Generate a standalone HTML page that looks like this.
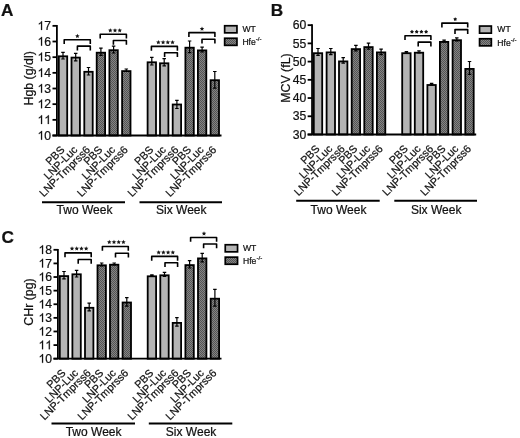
<!DOCTYPE html>
<html><head><meta charset="utf-8"><title>Figure</title>
<style>
html,body{margin:0;padding:0;background:#fff;}
body{width:520px;height:438px;overflow:hidden;}
svg{display:block;filter:blur(0.4px);}
text{font-family:"Liberation Sans", sans-serif;fill:#111;stroke:#111;stroke-width:0.22px;}
</style></head>
<body>
<svg width="520" height="438" viewBox="0 0 520 438">
<defs>
<pattern id="hatch" width="2" height="2" patternUnits="userSpaceOnUse">
<rect width="2" height="2" fill="#848484"/>
<rect width="1" height="1" fill="#545454"/>
<rect x="1" y="1" width="1" height="1" fill="#545454"/>
</pattern>
</defs>
<rect width="520" height="438" fill="#fff"/>
<rect x="58.80" y="56.30" width="8.40" height="79.20" fill="#b4b4b4" stroke="#000" stroke-width="1.8"/>
<path d="M63.00 52.30V59.00M61.25 52.30H64.75M61.25 59.00H64.75" stroke="#000" stroke-width="1.2" fill="none"/>
<rect x="71.50" y="57.60" width="8.40" height="77.90" fill="#b4b4b4" stroke="#000" stroke-width="1.8"/>
<path d="M75.70 53.40V60.80M73.95 53.40H77.45M73.95 60.80H77.45" stroke="#000" stroke-width="1.2" fill="none"/>
<rect x="84.30" y="71.80" width="8.40" height="63.70" fill="#b4b4b4" stroke="#000" stroke-width="1.8"/>
<path d="M88.50 67.50V75.00M86.75 67.50H90.25M86.75 75.00H90.25" stroke="#000" stroke-width="1.2" fill="none"/>
<rect x="96.70" y="52.70" width="8.40" height="82.80" fill="url(#hatch)" stroke="#000" stroke-width="1.8"/>
<path d="M100.90 48.20V55.40M99.15 48.20H102.65M99.15 55.40H102.65" stroke="#000" stroke-width="1.2" fill="none"/>
<rect x="109.40" y="50.20" width="8.40" height="85.30" fill="url(#hatch)" stroke="#000" stroke-width="1.8"/>
<path d="M113.60 46.20V53.00M111.85 46.20H115.35M111.85 53.00H115.35" stroke="#000" stroke-width="1.2" fill="none"/>
<rect x="122.10" y="71.10" width="8.40" height="64.40" fill="url(#hatch)" stroke="#000" stroke-width="1.8"/>
<path d="M126.30 69.00V71.50M124.55 69.00H128.05M124.55 71.50H128.05" stroke="#000" stroke-width="1.2" fill="none"/>
<rect x="147.60" y="62.30" width="8.40" height="73.20" fill="#b4b4b4" stroke="#000" stroke-width="1.8"/>
<path d="M151.80 57.40V65.00M150.05 57.40H153.55M150.05 65.00H153.55" stroke="#000" stroke-width="1.2" fill="none"/>
<rect x="160.00" y="63.30" width="8.40" height="72.20" fill="#b4b4b4" stroke="#000" stroke-width="1.8"/>
<path d="M164.20 58.60V65.80M162.45 58.60H165.95M162.45 65.80H165.95" stroke="#000" stroke-width="1.2" fill="none"/>
<rect x="172.70" y="104.50" width="8.40" height="31.00" fill="#b4b4b4" stroke="#000" stroke-width="1.8"/>
<path d="M176.90 100.40V108.50M175.15 100.40H178.65M175.15 108.50H178.65" stroke="#000" stroke-width="1.2" fill="none"/>
<rect x="185.40" y="47.70" width="8.40" height="87.80" fill="url(#hatch)" stroke="#000" stroke-width="1.8"/>
<path d="M189.60 41.00V52.60M187.85 41.00H191.35M187.85 52.60H191.35" stroke="#000" stroke-width="1.2" fill="none"/>
<rect x="197.90" y="50.40" width="8.40" height="85.10" fill="url(#hatch)" stroke="#000" stroke-width="1.8"/>
<path d="M202.10 47.10V52.00M200.35 47.10H203.85M200.35 52.00H203.85" stroke="#000" stroke-width="1.2" fill="none"/>
<rect x="210.60" y="80.20" width="8.40" height="55.30" fill="url(#hatch)" stroke="#000" stroke-width="1.8"/>
<path d="M214.80 71.50V88.20M213.05 71.50H216.55M213.05 88.20H216.55" stroke="#000" stroke-width="1.2" fill="none"/>
<path d="M56.90 24.95V135.50" stroke="#000" stroke-width="1.8" fill="none"/>
<path d="M52.50 135.50H221.50" stroke="#000" stroke-width="1.8" fill="none"/>
<path d="M52.50 25.85H56.90" stroke="#000" stroke-width="1.8" fill="none"/>
<path d="M763 0H583V1147Q518 1085 412.5 1023T223 930V1104Q374 1175 487 1276T647 1472H763V0Z" transform="translate(37.53 30.00) scale(0.00596 -0.00596)" fill="#111" stroke="#111" stroke-width="36.9"/>
<text x="44.31" y="30.00" font-size="12.2">7</text>
<path d="M52.50 41.51H56.90" stroke="#000" stroke-width="1.8" fill="none"/>
<path d="M763 0H583V1147Q518 1085 412.5 1023T223 930V1104Q374 1175 487 1276T647 1472H763V0Z" transform="translate(37.53 45.66) scale(0.00596 -0.00596)" fill="#111" stroke="#111" stroke-width="36.9"/>
<text x="44.31" y="45.66" font-size="12.2">6</text>
<path d="M52.50 57.18H56.90" stroke="#000" stroke-width="1.8" fill="none"/>
<path d="M763 0H583V1147Q518 1085 412.5 1023T223 930V1104Q374 1175 487 1276T647 1472H763V0Z" transform="translate(37.53 61.33) scale(0.00596 -0.00596)" fill="#111" stroke="#111" stroke-width="36.9"/>
<text x="44.31" y="61.33" font-size="12.2">5</text>
<path d="M52.50 72.84H56.90" stroke="#000" stroke-width="1.8" fill="none"/>
<path d="M763 0H583V1147Q518 1085 412.5 1023T223 930V1104Q374 1175 487 1276T647 1472H763V0Z" transform="translate(37.53 76.99) scale(0.00596 -0.00596)" fill="#111" stroke="#111" stroke-width="36.9"/>
<text x="44.31" y="76.99" font-size="12.2">4</text>
<path d="M52.50 88.51H56.90" stroke="#000" stroke-width="1.8" fill="none"/>
<path d="M763 0H583V1147Q518 1085 412.5 1023T223 930V1104Q374 1175 487 1276T647 1472H763V0Z" transform="translate(37.53 92.66) scale(0.00596 -0.00596)" fill="#111" stroke="#111" stroke-width="36.9"/>
<text x="44.31" y="92.66" font-size="12.2">3</text>
<path d="M52.50 104.17H56.90" stroke="#000" stroke-width="1.8" fill="none"/>
<path d="M763 0H583V1147Q518 1085 412.5 1023T223 930V1104Q374 1175 487 1276T647 1472H763V0Z" transform="translate(37.53 108.32) scale(0.00596 -0.00596)" fill="#111" stroke="#111" stroke-width="36.9"/>
<text x="44.31" y="108.32" font-size="12.2">2</text>
<path d="M52.50 119.84H56.90" stroke="#000" stroke-width="1.8" fill="none"/>
<path d="M763 0H583V1147Q518 1085 412.5 1023T223 930V1104Q374 1175 487 1276T647 1472H763V0Z" transform="translate(37.53 123.98) scale(0.00596 -0.00596)" fill="#111" stroke="#111" stroke-width="36.9"/>
<path d="M763 0H583V1147Q518 1085 412.5 1023T223 930V1104Q374 1175 487 1276T647 1472H763V0Z" transform="translate(44.31 123.98) scale(0.00596 -0.00596)" fill="#111" stroke="#111" stroke-width="36.9"/>
<path d="M52.50 135.50H56.90" stroke="#000" stroke-width="1.8" fill="none"/>
<path d="M763 0H583V1147Q518 1085 412.5 1023T223 930V1104Q374 1175 487 1276T647 1472H763V0Z" transform="translate(37.53 139.65) scale(0.00596 -0.00596)" fill="#111" stroke="#111" stroke-width="36.9"/>
<text x="44.31" y="139.65" font-size="12.2">0</text>
<text x="32.95" y="78.35" font-size="12.4" text-anchor="middle" transform="rotate(-90 32.95 78.35)">Hgb (g/dl)</text>
<text x="1.00" y="16.00" font-size="17.2" font-weight="bold">A</text>
<path d="M64.20 44.05V39.75H90.30V44.05" stroke="#000" stroke-width="1.6" fill="none" stroke-linejoin="round"/>
<polygon points="77.40,33.80 78.05,35.26 79.63,35.42 78.45,36.49 78.78,38.05 77.40,37.25 76.02,38.05 76.35,36.49 75.17,35.42 76.75,35.26" fill="#151515"/>
<path d="M77.40 50.45V46.15H90.30V50.45" stroke="#000" stroke-width="1.6" fill="none" stroke-linejoin="round"/>
<path d="M100.20 38.50V34.20H126.40V38.50" stroke="#000" stroke-width="1.6" fill="none" stroke-linejoin="round"/>
<polygon points="110.28,28.15 110.93,29.61 112.51,29.77 111.33,30.84 111.66,32.40 110.28,31.60 108.90,32.40 109.23,30.84 108.05,29.77 109.63,29.61" fill="#151515"/>
<polygon points="115.00,28.15 115.65,29.61 117.23,29.77 116.05,30.84 116.38,32.40 115.00,31.60 113.62,32.40 113.95,30.84 112.77,29.77 114.35,29.61" fill="#151515"/>
<polygon points="119.72,28.15 120.37,29.61 121.95,29.77 120.77,30.84 121.10,32.40 119.72,31.60 118.34,32.40 118.67,30.84 117.49,29.77 119.07,29.61" fill="#151515"/>
<path d="M113.40 44.80V40.50H126.40V44.80" stroke="#000" stroke-width="1.6" fill="none" stroke-linejoin="round"/>
<path d="M151.40 50.70V46.40H177.40V50.70" stroke="#000" stroke-width="1.6" fill="none" stroke-linejoin="round"/>
<polygon points="158.37,39.95 159.02,41.41 160.60,41.57 159.42,42.64 159.75,44.20 158.37,43.40 156.99,44.20 157.32,42.64 156.14,41.57 157.72,41.41" fill="#151515"/>
<polygon points="163.09,39.95 163.74,41.41 165.32,41.57 164.14,42.64 164.47,44.20 163.09,43.40 161.71,44.20 162.04,42.64 160.86,41.57 162.44,41.41" fill="#151515"/>
<polygon points="167.81,39.95 168.46,41.41 170.04,41.57 168.86,42.64 169.19,44.20 167.81,43.40 166.43,44.20 166.76,42.64 165.58,41.57 167.16,41.41" fill="#151515"/>
<polygon points="172.53,39.95 173.18,41.41 174.76,41.57 173.58,42.64 173.91,44.20 172.53,43.40 171.15,44.20 171.48,42.64 170.30,41.57 171.88,41.41" fill="#151515"/>
<path d="M164.60 57.10V52.80H177.40V57.10" stroke="#000" stroke-width="1.6" fill="none" stroke-linejoin="round"/>
<path d="M188.90 36.90V32.60H214.90V36.90" stroke="#000" stroke-width="1.6" fill="none" stroke-linejoin="round"/>
<polygon points="202.00,26.45 202.65,27.91 204.23,28.07 203.05,29.14 203.38,30.70 202.00,29.90 200.62,30.70 200.95,29.14 199.77,28.07 201.35,27.91" fill="#151515"/>
<path d="M202.00 43.50V39.20H214.90V43.50" stroke="#000" stroke-width="1.6" fill="none" stroke-linejoin="round"/>
<text x="65.30" y="150.50" font-size="10.8" text-anchor="end" transform="rotate(-45 65.30 150.50)">PBS</text>
<text x="78.00" y="150.50" font-size="10.8" text-anchor="end" transform="rotate(-45 78.00 150.50)">LNP-Luc</text>
<text x="90.80" y="150.50" font-size="10.8" text-anchor="end" transform="rotate(-45 90.80 150.50)">LNP-Tmprss6</text>
<text x="103.20" y="150.50" font-size="10.8" text-anchor="end" transform="rotate(-45 103.20 150.50)">PBS</text>
<text x="115.90" y="150.50" font-size="10.8" text-anchor="end" transform="rotate(-45 115.90 150.50)">LNP-Luc</text>
<text x="128.60" y="150.50" font-size="10.8" text-anchor="end" transform="rotate(-45 128.60 150.50)">LNP-Tmprss6</text>
<text x="154.10" y="150.50" font-size="10.8" text-anchor="end" transform="rotate(-45 154.10 150.50)">PBS</text>
<text x="166.50" y="150.50" font-size="10.8" text-anchor="end" transform="rotate(-45 166.50 150.50)">LNP-Luc</text>
<text x="179.20" y="150.50" font-size="10.8" text-anchor="end" transform="rotate(-45 179.20 150.50)">LNP-Tmprss6</text>
<text x="191.90" y="150.50" font-size="10.8" text-anchor="end" transform="rotate(-45 191.90 150.50)">PBS</text>
<text x="204.40" y="150.50" font-size="10.8" text-anchor="end" transform="rotate(-45 204.40 150.50)">LNP-Luc</text>
<text x="217.10" y="150.50" font-size="10.8" text-anchor="end" transform="rotate(-45 217.10 150.50)">LNP-Tmprss6</text>
<path d="M42.00 202.20H125.00" stroke="#000" stroke-width="2" fill="none"/>
<text x="84.50" y="214.20" font-size="12.0" text-anchor="middle">Two Week</text>
<path d="M139.50 202.20H222.00" stroke="#000" stroke-width="2" fill="none"/>
<text x="181.30" y="214.20" font-size="12.0" text-anchor="middle">Six Week</text>
<rect x="224.65" y="25.75" width="12.30" height="7.10" fill="#b4b4b4" stroke="#000" stroke-width="1.7"/>
<rect x="224.65" y="38.25" width="12.30" height="7.10" fill="url(#hatch)" stroke="#000" stroke-width="1.7"/>
<text x="242.40" y="32.10" font-size="8.6">WT</text>
<text x="242.40" y="45.00" font-size="8.6">Hfe<tspan font-size="6.2" dy="-3.8">-/-</tspan></text>
<rect x="313.80" y="53.20" width="8.40" height="81.30" fill="#b4b4b4" stroke="#000" stroke-width="1.8"/>
<path d="M318.00 48.50V55.40M316.25 48.50H319.75M316.25 55.40H319.75" stroke="#000" stroke-width="1.2" fill="none"/>
<rect x="326.60" y="52.40" width="8.40" height="82.10" fill="#b4b4b4" stroke="#000" stroke-width="1.8"/>
<path d="M330.80 48.50V54.60M329.05 48.50H332.55M329.05 54.60H332.55" stroke="#000" stroke-width="1.2" fill="none"/>
<rect x="339.00" y="61.40" width="8.40" height="73.10" fill="#b4b4b4" stroke="#000" stroke-width="1.8"/>
<path d="M343.20 57.70V63.10M341.45 57.70H344.95M341.45 63.10H344.95" stroke="#000" stroke-width="1.2" fill="none"/>
<rect x="351.70" y="49.10" width="8.40" height="85.40" fill="url(#hatch)" stroke="#000" stroke-width="1.8"/>
<path d="M355.90 45.40V50.80M354.15 45.40H357.65M354.15 50.80H357.65" stroke="#000" stroke-width="1.2" fill="none"/>
<rect x="364.30" y="47.10" width="8.40" height="87.40" fill="url(#hatch)" stroke="#000" stroke-width="1.8"/>
<path d="M368.50 43.10V49.20M366.75 43.10H370.25M366.75 49.20H370.25" stroke="#000" stroke-width="1.2" fill="none"/>
<rect x="376.90" y="52.40" width="8.40" height="82.10" fill="url(#hatch)" stroke="#000" stroke-width="1.8"/>
<path d="M381.10 49.20V54.60M379.35 49.20H382.85M379.35 54.60H382.85" stroke="#000" stroke-width="1.2" fill="none"/>
<rect x="402.20" y="53.20" width="8.40" height="81.30" fill="#b4b4b4" stroke="#000" stroke-width="1.8"/>
<path d="M406.40 51.70V53.10M404.65 51.70H408.15M404.65 53.10H408.15" stroke="#000" stroke-width="1.2" fill="none"/>
<rect x="414.80" y="52.70" width="8.40" height="81.80" fill="#b4b4b4" stroke="#000" stroke-width="1.8"/>
<path d="M419.00 50.90V52.90M417.25 50.90H420.75M417.25 52.90H420.75" stroke="#000" stroke-width="1.2" fill="none"/>
<rect x="427.40" y="85.00" width="8.40" height="49.50" fill="#b4b4b4" stroke="#000" stroke-width="1.8"/>
<path d="M431.60 83.30V85.20M429.85 83.30H433.35M429.85 85.20H433.35" stroke="#000" stroke-width="1.2" fill="none"/>
<rect x="439.90" y="41.90" width="8.40" height="92.60" fill="url(#hatch)" stroke="#000" stroke-width="1.8"/>
<path d="M444.10 40.20V42.00M442.35 40.20H445.85M442.35 42.00H445.85" stroke="#000" stroke-width="1.2" fill="none"/>
<rect x="452.60" y="40.20" width="8.40" height="94.30" fill="url(#hatch)" stroke="#000" stroke-width="1.8"/>
<path d="M456.80 37.80V40.90M455.05 37.80H458.55M455.05 40.90H458.55" stroke="#000" stroke-width="1.2" fill="none"/>
<rect x="465.30" y="68.90" width="8.40" height="65.60" fill="url(#hatch)" stroke="#000" stroke-width="1.8"/>
<path d="M469.50 61.50V74.40M467.75 61.50H471.25M467.75 74.40H471.25" stroke="#000" stroke-width="1.2" fill="none"/>
<path d="M312.05 24.25V134.50" stroke="#000" stroke-width="1.8" fill="none"/>
<path d="M307.65 134.50H476.20" stroke="#000" stroke-width="1.8" fill="none"/>
<path d="M307.65 25.15H312.05" stroke="#000" stroke-width="1.8" fill="none"/>
<text x="292.68" y="29.30" font-size="12.2">6</text>
<text x="299.46" y="29.30" font-size="12.2">0</text>
<path d="M307.65 43.38H312.05" stroke="#000" stroke-width="1.8" fill="none"/>
<text x="292.68" y="47.52" font-size="12.2">5</text>
<text x="299.46" y="47.52" font-size="12.2">5</text>
<path d="M307.65 61.60H312.05" stroke="#000" stroke-width="1.8" fill="none"/>
<text x="292.68" y="65.75" font-size="12.2">5</text>
<text x="299.46" y="65.75" font-size="12.2">0</text>
<path d="M307.65 79.82H312.05" stroke="#000" stroke-width="1.8" fill="none"/>
<text x="292.68" y="83.97" font-size="12.2">4</text>
<text x="299.46" y="83.97" font-size="12.2">5</text>
<path d="M307.65 98.05H312.05" stroke="#000" stroke-width="1.8" fill="none"/>
<text x="292.68" y="102.20" font-size="12.2">4</text>
<text x="299.46" y="102.20" font-size="12.2">0</text>
<path d="M307.65 116.28H312.05" stroke="#000" stroke-width="1.8" fill="none"/>
<text x="292.68" y="120.42" font-size="12.2">3</text>
<text x="299.46" y="120.42" font-size="12.2">5</text>
<path d="M307.65 134.50H312.05" stroke="#000" stroke-width="1.8" fill="none"/>
<text x="292.68" y="138.65" font-size="12.2">3</text>
<text x="299.46" y="138.65" font-size="12.2">0</text>
<text x="290.10" y="78.05" font-size="12.4" text-anchor="middle" transform="rotate(-90 290.10 78.05)">MCV (fL)</text>
<text x="270.70" y="16.00" font-size="17.2" font-weight="bold">B</text>
<path d="M405.00 40.05V35.75H430.90V40.05" stroke="#000" stroke-width="1.6" fill="none" stroke-linejoin="round"/>
<polygon points="411.97,29.75 412.70,30.79 413.92,31.17 413.16,32.19 413.17,33.46 411.97,33.05 410.77,33.46 410.78,32.19 410.02,31.17 411.24,30.79" fill="#151515"/>
<polygon points="416.69,29.75 417.42,30.79 418.64,31.17 417.88,32.19 417.89,33.46 416.69,33.05 415.49,33.46 415.50,32.19 414.74,31.17 415.96,30.79" fill="#151515"/>
<polygon points="421.41,29.75 422.14,30.79 423.36,31.17 422.60,32.19 422.61,33.46 421.41,33.05 420.21,33.46 420.22,32.19 419.46,31.17 420.68,30.79" fill="#151515"/>
<polygon points="426.13,29.75 426.86,30.79 428.08,31.17 427.32,32.19 427.33,33.46 426.13,33.05 424.93,33.46 424.94,32.19 424.18,31.17 425.40,30.79" fill="#151515"/>
<path d="M418.20 46.45V42.15H430.90V46.45" stroke="#000" stroke-width="1.6" fill="none" stroke-linejoin="round"/>
<path d="M441.90 27.40V23.10H467.70V27.40" stroke="#000" stroke-width="1.6" fill="none" stroke-linejoin="round"/>
<polygon points="455.20,17.15 455.93,18.19 457.15,18.57 456.39,19.59 456.40,20.86 455.20,20.45 454.00,20.86 454.01,19.59 453.25,18.57 454.47,18.19" fill="#151515"/>
<path d="M455.00 33.90V29.60H467.70V33.90" stroke="#000" stroke-width="1.6" fill="none" stroke-linejoin="round"/>
<text x="320.30" y="149.50" font-size="10.8" text-anchor="end" transform="rotate(-45 320.30 149.50)">PBS</text>
<text x="333.10" y="149.50" font-size="10.8" text-anchor="end" transform="rotate(-45 333.10 149.50)">LNP-Luc</text>
<text x="345.50" y="149.50" font-size="10.8" text-anchor="end" transform="rotate(-45 345.50 149.50)">LNP-Tmprss6</text>
<text x="358.20" y="149.50" font-size="10.8" text-anchor="end" transform="rotate(-45 358.20 149.50)">PBS</text>
<text x="370.80" y="149.50" font-size="10.8" text-anchor="end" transform="rotate(-45 370.80 149.50)">LNP-Luc</text>
<text x="383.40" y="149.50" font-size="10.8" text-anchor="end" transform="rotate(-45 383.40 149.50)">LNP-Tmprss6</text>
<text x="408.70" y="149.50" font-size="10.8" text-anchor="end" transform="rotate(-45 408.70 149.50)">PBS</text>
<text x="421.30" y="149.50" font-size="10.8" text-anchor="end" transform="rotate(-45 421.30 149.50)">LNP-Luc</text>
<text x="433.90" y="149.50" font-size="10.8" text-anchor="end" transform="rotate(-45 433.90 149.50)">LNP-Tmprss6</text>
<text x="446.40" y="149.50" font-size="10.8" text-anchor="end" transform="rotate(-45 446.40 149.50)">PBS</text>
<text x="459.10" y="149.50" font-size="10.8" text-anchor="end" transform="rotate(-45 459.10 149.50)">LNP-Luc</text>
<text x="471.80" y="149.50" font-size="10.8" text-anchor="end" transform="rotate(-45 471.80 149.50)">LNP-Tmprss6</text>
<path d="M296.20 200.80H379.70" stroke="#000" stroke-width="2" fill="none"/>
<text x="338.50" y="213.60" font-size="12.0" text-anchor="middle">Two Week</text>
<path d="M394.30 200.80H477.00" stroke="#000" stroke-width="2" fill="none"/>
<text x="436.20" y="213.60" font-size="12.0" text-anchor="middle">Six Week</text>
<rect x="479.55" y="26.05" width="11.80" height="7.10" fill="#b4b4b4" stroke="#000" stroke-width="1.7"/>
<rect x="479.55" y="38.75" width="11.80" height="7.10" fill="url(#hatch)" stroke="#000" stroke-width="1.7"/>
<text x="497.30" y="32.40" font-size="8.6">WT</text>
<text x="497.30" y="45.50" font-size="8.6">Hfe<tspan font-size="6.2" dy="-3.8">-/-</tspan></text>
<rect x="59.80" y="276.10" width="8.40" height="82.60" fill="#b4b4b4" stroke="#000" stroke-width="1.8"/>
<path d="M64.00 271.50V278.90M62.25 271.50H65.75M62.25 278.90H65.75" stroke="#000" stroke-width="1.2" fill="none"/>
<rect x="72.40" y="274.30" width="8.40" height="84.40" fill="#b4b4b4" stroke="#000" stroke-width="1.8"/>
<path d="M76.60 270.40V277.00M74.85 270.40H78.35M74.85 277.00H78.35" stroke="#000" stroke-width="1.2" fill="none"/>
<rect x="85.00" y="307.80" width="8.40" height="50.90" fill="#b4b4b4" stroke="#000" stroke-width="1.8"/>
<path d="M89.20 303.10V310.80M87.45 303.10H90.95M87.45 310.80H90.95" stroke="#000" stroke-width="1.2" fill="none"/>
<rect x="97.50" y="265.30" width="8.40" height="93.40" fill="url(#hatch)" stroke="#000" stroke-width="1.8"/>
<path d="M101.70 263.00V265.80M99.95 263.00H103.45M99.95 265.80H103.45" stroke="#000" stroke-width="1.2" fill="none"/>
<rect x="110.00" y="264.70" width="8.40" height="94.00" fill="url(#hatch)" stroke="#000" stroke-width="1.8"/>
<path d="M114.20 263.00V264.80M112.45 263.00H115.95M112.45 264.80H115.95" stroke="#000" stroke-width="1.2" fill="none"/>
<rect x="122.60" y="302.50" width="8.40" height="56.20" fill="url(#hatch)" stroke="#000" stroke-width="1.8"/>
<path d="M126.80 297.70V306.20M125.05 297.70H128.55M125.05 306.20H128.55" stroke="#000" stroke-width="1.2" fill="none"/>
<rect x="147.70" y="276.30" width="8.40" height="82.40" fill="#b4b4b4" stroke="#000" stroke-width="1.8"/>
<path d="M151.90 274.80V276.00M150.15 274.80H153.65M150.15 276.00H153.65" stroke="#000" stroke-width="1.2" fill="none"/>
<rect x="160.30" y="275.30" width="8.40" height="83.40" fill="#b4b4b4" stroke="#000" stroke-width="1.8"/>
<path d="M164.50 272.40V276.50M162.75 272.40H166.25M162.75 276.50H166.25" stroke="#000" stroke-width="1.2" fill="none"/>
<rect x="172.70" y="322.90" width="8.40" height="35.80" fill="#b4b4b4" stroke="#000" stroke-width="1.8"/>
<path d="M176.90 317.70V326.20M175.15 317.70H178.65M175.15 326.20H178.65" stroke="#000" stroke-width="1.2" fill="none"/>
<rect x="185.40" y="265.10" width="8.40" height="93.60" fill="url(#hatch)" stroke="#000" stroke-width="1.8"/>
<path d="M189.60 260.60V268.00M187.85 260.60H191.35M187.85 268.00H191.35" stroke="#000" stroke-width="1.2" fill="none"/>
<rect x="198.00" y="258.40" width="8.40" height="100.30" fill="url(#hatch)" stroke="#000" stroke-width="1.8"/>
<path d="M202.20 253.40V261.80M200.45 253.40H203.95M200.45 261.80H203.95" stroke="#000" stroke-width="1.2" fill="none"/>
<rect x="210.70" y="298.70" width="8.40" height="60.00" fill="url(#hatch)" stroke="#000" stroke-width="1.8"/>
<path d="M214.90 289.30V306.20M213.15 289.30H216.65M213.15 306.20H216.65" stroke="#000" stroke-width="1.2" fill="none"/>
<path d="M57.90 248.90V358.70" stroke="#000" stroke-width="1.8" fill="none"/>
<path d="M53.50 358.70H221.50" stroke="#000" stroke-width="1.8" fill="none"/>
<path d="M53.50 249.80H57.90" stroke="#000" stroke-width="1.8" fill="none"/>
<path d="M763 0H583V1147Q518 1085 412.5 1023T223 930V1104Q374 1175 487 1276T647 1472H763V0Z" transform="translate(38.53 253.95) scale(0.00596 -0.00596)" fill="#111" stroke="#111" stroke-width="36.9"/>
<text x="45.31" y="253.95" font-size="12.2">8</text>
<path d="M53.50 263.41H57.90" stroke="#000" stroke-width="1.8" fill="none"/>
<path d="M763 0H583V1147Q518 1085 412.5 1023T223 930V1104Q374 1175 487 1276T647 1472H763V0Z" transform="translate(38.53 267.56) scale(0.00596 -0.00596)" fill="#111" stroke="#111" stroke-width="36.9"/>
<text x="45.31" y="267.56" font-size="12.2">7</text>
<path d="M53.50 277.02H57.90" stroke="#000" stroke-width="1.8" fill="none"/>
<path d="M763 0H583V1147Q518 1085 412.5 1023T223 930V1104Q374 1175 487 1276T647 1472H763V0Z" transform="translate(38.53 281.17) scale(0.00596 -0.00596)" fill="#111" stroke="#111" stroke-width="36.9"/>
<text x="45.31" y="281.17" font-size="12.2">6</text>
<path d="M53.50 290.64H57.90" stroke="#000" stroke-width="1.8" fill="none"/>
<path d="M763 0H583V1147Q518 1085 412.5 1023T223 930V1104Q374 1175 487 1276T647 1472H763V0Z" transform="translate(38.53 294.79) scale(0.00596 -0.00596)" fill="#111" stroke="#111" stroke-width="36.9"/>
<text x="45.31" y="294.79" font-size="12.2">5</text>
<path d="M53.50 304.25H57.90" stroke="#000" stroke-width="1.8" fill="none"/>
<path d="M763 0H583V1147Q518 1085 412.5 1023T223 930V1104Q374 1175 487 1276T647 1472H763V0Z" transform="translate(38.53 308.40) scale(0.00596 -0.00596)" fill="#111" stroke="#111" stroke-width="36.9"/>
<text x="45.31" y="308.40" font-size="12.2">4</text>
<path d="M53.50 317.86H57.90" stroke="#000" stroke-width="1.8" fill="none"/>
<path d="M763 0H583V1147Q518 1085 412.5 1023T223 930V1104Q374 1175 487 1276T647 1472H763V0Z" transform="translate(38.53 322.01) scale(0.00596 -0.00596)" fill="#111" stroke="#111" stroke-width="36.9"/>
<text x="45.31" y="322.01" font-size="12.2">3</text>
<path d="M53.50 331.48H57.90" stroke="#000" stroke-width="1.8" fill="none"/>
<path d="M763 0H583V1147Q518 1085 412.5 1023T223 930V1104Q374 1175 487 1276T647 1472H763V0Z" transform="translate(38.53 335.62) scale(0.00596 -0.00596)" fill="#111" stroke="#111" stroke-width="36.9"/>
<text x="45.31" y="335.62" font-size="12.2">2</text>
<path d="M53.50 345.09H57.90" stroke="#000" stroke-width="1.8" fill="none"/>
<path d="M763 0H583V1147Q518 1085 412.5 1023T223 930V1104Q374 1175 487 1276T647 1472H763V0Z" transform="translate(38.53 349.24) scale(0.00596 -0.00596)" fill="#111" stroke="#111" stroke-width="36.9"/>
<path d="M763 0H583V1147Q518 1085 412.5 1023T223 930V1104Q374 1175 487 1276T647 1472H763V0Z" transform="translate(45.31 349.24) scale(0.00596 -0.00596)" fill="#111" stroke="#111" stroke-width="36.9"/>
<path d="M53.50 358.70H57.90" stroke="#000" stroke-width="1.8" fill="none"/>
<path d="M763 0H583V1147Q518 1085 412.5 1023T223 930V1104Q374 1175 487 1276T647 1472H763V0Z" transform="translate(38.53 362.85) scale(0.00596 -0.00596)" fill="#111" stroke="#111" stroke-width="36.9"/>
<text x="45.31" y="362.85" font-size="12.2">0</text>
<text x="32.95" y="302.00" font-size="12.4" text-anchor="middle" transform="rotate(-90 32.95 302.00)">CHr (pg)</text>
<text x="1.40" y="242.80" font-size="17.2" font-weight="bold">C</text>
<path d="M65.00 257.20V252.90H91.20V257.20" stroke="#000" stroke-width="1.6" fill="none" stroke-linejoin="round"/>
<polygon points="72.02,246.25 72.67,247.71 74.25,247.87 73.07,248.94 73.40,250.50 72.02,249.70 70.64,250.50 70.97,248.94 69.79,247.87 71.37,247.71" fill="#151515"/>
<polygon points="76.74,246.25 77.39,247.71 78.97,247.87 77.79,248.94 78.12,250.50 76.74,249.70 75.36,250.50 75.69,248.94 74.51,247.87 76.09,247.71" fill="#151515"/>
<polygon points="81.46,246.25 82.11,247.71 83.69,247.87 82.51,248.94 82.84,250.50 81.46,249.70 80.08,250.50 80.41,248.94 79.23,247.87 80.81,247.71" fill="#151515"/>
<polygon points="86.18,246.25 86.83,247.71 88.41,247.87 87.23,248.94 87.56,250.50 86.18,249.70 84.80,250.50 85.13,248.94 83.95,247.87 85.53,247.71" fill="#151515"/>
<path d="M78.20 263.80V259.50H91.20V263.80" stroke="#000" stroke-width="1.6" fill="none" stroke-linejoin="round"/>
<path d="M102.40 250.75V246.45H128.30V250.75" stroke="#000" stroke-width="1.6" fill="none" stroke-linejoin="round"/>
<polygon points="109.27,239.85 109.92,241.31 111.50,241.47 110.32,242.54 110.65,244.10 109.27,243.30 107.89,244.10 108.22,242.54 107.04,241.47 108.62,241.31" fill="#151515"/>
<polygon points="113.99,239.85 114.64,241.31 116.22,241.47 115.04,242.54 115.37,244.10 113.99,243.30 112.61,244.10 112.94,242.54 111.76,241.47 113.34,241.31" fill="#151515"/>
<polygon points="118.71,239.85 119.36,241.31 120.94,241.47 119.76,242.54 120.09,244.10 118.71,243.30 117.33,244.10 117.66,242.54 116.48,241.47 118.06,241.31" fill="#151515"/>
<polygon points="123.43,239.85 124.08,241.31 125.66,241.47 124.48,242.54 124.81,244.10 123.43,243.30 122.05,244.10 122.38,242.54 121.20,241.47 122.78,241.31" fill="#151515"/>
<path d="M115.50 257.60V253.30H128.40V257.60" stroke="#000" stroke-width="1.6" fill="none" stroke-linejoin="round"/>
<path d="M151.70 260.70V256.40H177.60V260.70" stroke="#000" stroke-width="1.6" fill="none" stroke-linejoin="round"/>
<polygon points="158.67,250.15 159.32,251.61 160.90,251.77 159.72,252.84 160.05,254.40 158.67,253.60 157.29,254.40 157.62,252.84 156.44,251.77 158.02,251.61" fill="#151515"/>
<polygon points="163.39,250.15 164.04,251.61 165.62,251.77 164.44,252.84 164.77,254.40 163.39,253.60 162.01,254.40 162.34,252.84 161.16,251.77 162.74,251.61" fill="#151515"/>
<polygon points="168.11,250.15 168.76,251.61 170.34,251.77 169.16,252.84 169.49,254.40 168.11,253.60 166.73,254.40 167.06,252.84 165.88,251.77 167.46,251.61" fill="#151515"/>
<polygon points="172.83,250.15 173.48,251.61 175.06,251.77 173.88,252.84 174.21,254.40 172.83,253.60 171.45,254.40 171.78,252.84 170.60,251.77 172.18,251.61" fill="#151515"/>
<path d="M165.00 267.10V262.80H177.60V267.10" stroke="#000" stroke-width="1.6" fill="none" stroke-linejoin="round"/>
<path d="M190.60 241.75V237.45H216.60V241.75" stroke="#000" stroke-width="1.6" fill="none" stroke-linejoin="round"/>
<polygon points="204.00,231.25 204.65,232.71 206.23,232.87 205.05,233.94 205.38,235.50 204.00,234.70 202.62,235.50 202.95,233.94 201.77,232.87 203.35,232.71" fill="#151515"/>
<path d="M203.60 248.30V244.00H216.60V248.30" stroke="#000" stroke-width="1.6" fill="none" stroke-linejoin="round"/>
<text x="66.30" y="373.70" font-size="10.8" text-anchor="end" transform="rotate(-45 66.30 373.70)">PBS</text>
<text x="78.90" y="373.70" font-size="10.8" text-anchor="end" transform="rotate(-45 78.90 373.70)">LNP-Luc</text>
<text x="91.50" y="373.70" font-size="10.8" text-anchor="end" transform="rotate(-45 91.50 373.70)">LNP-Tmprss6</text>
<text x="104.00" y="373.70" font-size="10.8" text-anchor="end" transform="rotate(-45 104.00 373.70)">PBS</text>
<text x="116.50" y="373.70" font-size="10.8" text-anchor="end" transform="rotate(-45 116.50 373.70)">LNP-Luc</text>
<text x="129.10" y="373.70" font-size="10.8" text-anchor="end" transform="rotate(-45 129.10 373.70)">LNP-Tmprss6</text>
<text x="154.20" y="373.70" font-size="10.8" text-anchor="end" transform="rotate(-45 154.20 373.70)">PBS</text>
<text x="166.80" y="373.70" font-size="10.8" text-anchor="end" transform="rotate(-45 166.80 373.70)">LNP-Luc</text>
<text x="179.20" y="373.70" font-size="10.8" text-anchor="end" transform="rotate(-45 179.20 373.70)">LNP-Tmprss6</text>
<text x="191.90" y="373.70" font-size="10.8" text-anchor="end" transform="rotate(-45 191.90 373.70)">PBS</text>
<text x="204.50" y="373.70" font-size="10.8" text-anchor="end" transform="rotate(-45 204.50 373.70)">LNP-Luc</text>
<text x="217.20" y="373.70" font-size="10.8" text-anchor="end" transform="rotate(-45 217.20 373.70)">LNP-Tmprss6</text>
<path d="M51.50 423.50H135.00" stroke="#000" stroke-width="2" fill="none"/>
<text x="93.60" y="436.10" font-size="12.0" text-anchor="middle">Two Week</text>
<path d="M148.80 423.50H232.30" stroke="#000" stroke-width="2" fill="none"/>
<text x="191.10" y="436.10" font-size="12.0" text-anchor="middle">Six Week</text>
<rect x="225.25" y="244.75" width="12.30" height="7.10" fill="#b4b4b4" stroke="#000" stroke-width="1.7"/>
<rect x="225.25" y="257.15" width="12.30" height="7.10" fill="url(#hatch)" stroke="#000" stroke-width="1.7"/>
<text x="243.00" y="251.10" font-size="8.6">WT</text>
<text x="243.00" y="263.90" font-size="8.6">Hfe<tspan font-size="6.2" dy="-3.8">-/-</tspan></text>
</svg>
</body></html>
